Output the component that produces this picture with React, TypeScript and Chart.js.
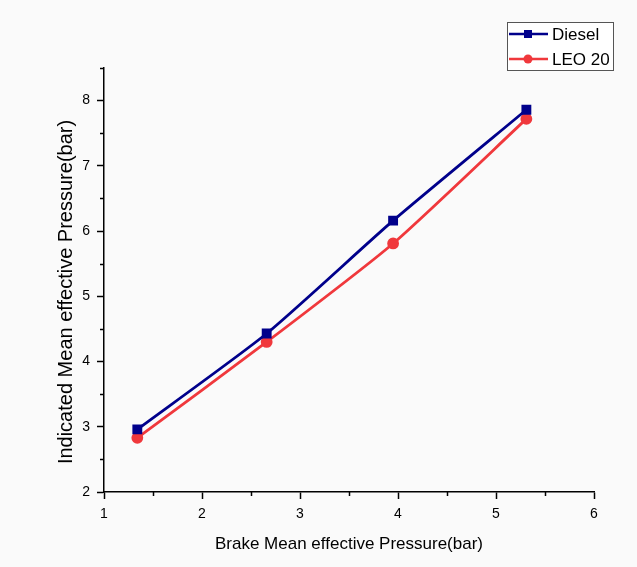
import React, { useEffect, useRef } from "react";
import { Chart, registerables } from "chart.js";

Chart.register(...registerables);

const bmep = [1.34, 2.66, 3.95, 5.31];
const dieselImep = [2.96, 4.43, 6.16, 7.86];
const leo20Imep = [2.83, 4.3, 5.81, 7.72];
const seriesLabels = ["Diesel", "LEO 20"];
const seriesColors = ["#00008b", "#f0383c"];
const xTitle = "Brake Mean effective Pressure(bar)";
const yTitle = "Indicated Mean effective Pressure(bar)";

const FONT = "'Liberation Sans', Arial, sans-serif";

const minorTicks = {
  id: "minorTicks",
  afterDraw(chart: any) {
    const ctx = chart.ctx;
    ctx.save();
    ctx.strokeStyle = "#000";
    ctx.lineWidth = 1.5;
    const xs = chart.scales.x;
    const ys = chart.scales.y;
    for (let v = xs.min + 0.5; v <= xs.max; v += 1) {
      const px = Math.round(xs.getPixelForValue(v)) + 0.5;
      ctx.beginPath();
      ctx.moveTo(px, ys.bottom);
      ctx.lineTo(px, ys.bottom + 4);
      ctx.stroke();
    }
    for (let v = ys.min + 0.5; v <= ys.max + 0.001; v += 1) {
      const py = Math.round(ys.getPixelForValue(v)) + 0.5;
      ctx.beginPath();
      ctx.moveTo(xs.left, py);
      ctx.lineTo(xs.left - 4, py);
      ctx.stroke();
    }
    ctx.restore();
  },
};

const yTitlePlugin = {
  id: "yTitlePlugin",
  afterDraw(chart: any) {
    const ctx = chart.ctx;
    const ca = chart.chartArea;
    ctx.save();
    ctx.translate(66, (ca.top + ca.bottom) / 2 + 12);
    ctx.rotate(-Math.PI / 2);
    ctx.fillStyle = "#000";
    ctx.font = `20px ${FONT}`;
    ctx.textAlign = "center";
    ctx.textBaseline = "middle";
    ctx.fillText(yTitle, 0, 0);
    ctx.restore();
  },
};

const customLegend = {
  id: "customLegend",
  afterDraw(chart: any) {
    const ctx = chart.ctx;
    const bx = 507, by = 22, bw = 106, bh = 48;
    ctx.save();
    ctx.fillStyle = "#ffffff";
    ctx.fillRect(bx, by, bw, bh);
    ctx.strokeStyle = "#555";
    ctx.lineWidth = 1;
    ctx.strokeRect(bx + 0.5, by + 0.5, bw, bh);
    chart.data.datasets.forEach((ds: any, i: number) => {
      const y = by + 12 + i * 25;
      ctx.strokeStyle = ds.borderColor;
      ctx.lineWidth = 2.5;
      ctx.beginPath();
      ctx.moveTo(bx + 2, y);
      ctx.lineTo(bx + 41, y);
      ctx.stroke();
      ctx.fillStyle = ds.borderColor;
      const cx = bx + 21;
      if (ds.pointStyle === "rect") {
        ctx.fillRect(cx - 4, y - 4, 8, 8);
      } else {
        ctx.beginPath();
        ctx.arc(cx, y, 4.5, 0, Math.PI * 2);
        ctx.fill();
      }
      ctx.fillStyle = "#000";
      ctx.font = `17px ${FONT}`;
      ctx.textBaseline = "middle";
      ctx.textAlign = "left";
      ctx.fillText(ds.label, bx + 45, y + 1);
    });
    ctx.restore();
  },
};

export default function App() {
  const ref = useRef<HTMLCanvasElement>(null);
  useEffect(() => {
    if (!ref.current) return;
    const mk = (ys: number[]) => bmep.map((x, i) => ({ x, y: ys[i] }));
    const chart = new Chart(ref.current, {
      type: "line",
      data: {
        datasets: [
          {
            label: seriesLabels[0],
            data: mk(dieselImep),
            borderColor: seriesColors[0],
            backgroundColor: seriesColors[0],
            borderWidth: 2.8,
            pointStyle: "rect",
            pointRadius: 5,
            pointHoverRadius: 5,
            tension: 0.2,
          },
          {
            label: seriesLabels[1],
            data: mk(leo20Imep),
            borderColor: seriesColors[1],
            backgroundColor: seriesColors[1],
            borderWidth: 2.8,
            pointStyle: "circle",
            pointRadius: 4.5,
            pointHoverRadius: 4.5,
            tension: 0.2,
          },
        ],
      },
      options: {
        responsive: false,
        animation: false,
        layout: { padding: { left: 0, top: 68, right: 43, bottom: 0 } },
        plugins: { legend: { display: false }, tooltip: { enabled: false } },
        scales: {
          x: {
            type: "linear",
            min: 1,
            max: 6,
            afterFit: (s: any) => {
              s.height = 75;
            },
            border: { display: true, color: "#000", width: 1.5 },
            grid: { drawOnChartArea: false, drawTicks: true, tickLength: 7, tickColor: "#000", tickWidth: 1.5 },
            ticks: { stepSize: 1, color: "#000", font: { family: FONT, size: 14 }, padding: 7, maxRotation: 0 },
            title: { display: true, text: xTitle, color: "#000", font: { family: FONT, size: 17 }, padding: { top: 0, bottom: 12 } },
          },
          y: {
            type: "linear",
            min: 2,
            max: 8.5,
            afterFit: (s: any) => {
              s.width = 104;
            },
            border: { display: true, color: "#000", width: 1.5 },
            grid: { drawOnChartArea: false, drawTicks: true, tickLength: 7, tickColor: "#000", tickWidth: 1.5 },
            ticks: { stepSize: 1, includeBounds: false, color: "#000", font: { family: FONT, size: 14 }, padding: 7 },
            title: { display: false },
          },
        },
      },
      plugins: [minorTicks, yTitlePlugin, customLegend],
    } as any);
    return () => chart.destroy();
  }, []);
  return (
    <div style={{ position: "fixed", left: 0, top: 0, width: 637, height: 567, background: "#fafafa" }}>
      <canvas ref={ref} width={637} height={567} style={{ display: "block", width: 637, height: 567 }} />
    </div>
  );
}
